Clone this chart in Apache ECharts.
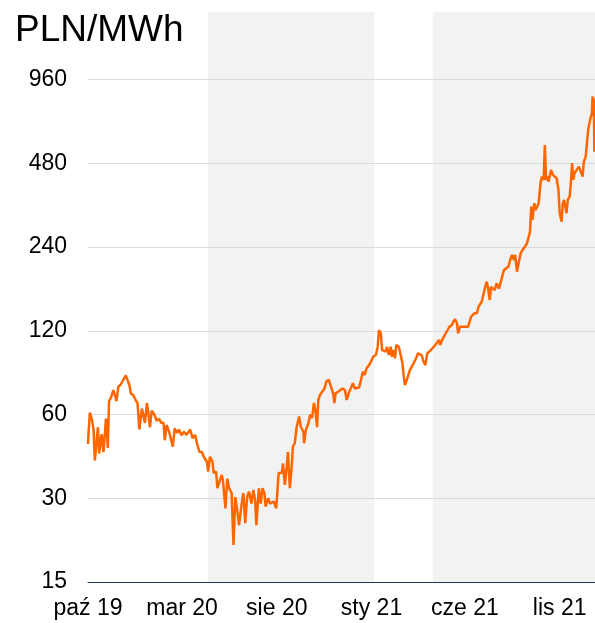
<!DOCTYPE html>
<html><head><meta charset="utf-8">
<script src="https://cdn.jsdelivr.net/npm/echarts@6/dist/echarts.min.js"></script>
<style>html,body{margin:0;padding:0;background:#fff}#c{width:595px;height:623px}</style>
</head><body><div id="c"></div>
<script>
// ---- data ----
const startDate = '2019-10-01';
const endDate = '2021-12-28';
const dayOffsets = [0,1,3,6,9,11,16,18,22,25,29,32,34,37,41,42,46,49,53,57,61,64,67,69,73,77,80,83,87,90,92,95,97,100,103,107,111,115,118,122,124,127,131,134,137,140,144,147,151,155,159,165,169,173,176,180,184,187,192,194,197,201,203,207,209,212,216,218,222,225,228,232,235,238,241,244,248,251,254,257,260,264,267,270,272,276,279,282,285,287,291,294,297,300,304,306,308,313,315,318,321,323,326,329,331,334,337,341,344,348,349,352,356,359,362,365,368,370,372,375,378,382,385,389,392,396,398,400,404,407,411,415,418,421,425,428,431,434,438,441,444,447,450,454,457,461,465,468,470,473,475,478,481,483,486,489,491,493,496,498,502,505,508,510,512,515,517,520,523,526,530,533,536,539,542,545,548,551,554,557,561,564,567,569,572,575,578,581,584,588,590,593,596,598,601,604,607,610,614,617,619,624,628,631,636,639,641,644,646,649,651,654,657,660,664,667,669,672,675,679,682,685,688,690,693,696,699,702,706,709,712,714,716,718,721,723,726,728,731,733,736,738,740,742,744,748,751,754,757,760,762,765,767,769,771,773,775,778,780,782,784,786,789,793,796,799,801,804,808,811,814,815,817,818];
const prices = [47,52,61,58,53,41,54,43.5,51,44,58,45.5,67,69,73.5,74.5,67,75.5,77,80,83,82.5,76.5,71.5,70.5,67.5,66,53,63,64,56,66,62,54,62,60,57,58,56,56,48.5,55,52,51.5,46,53.5,51.5,53,50.5,52,50.7,53,49.3,50.7,47.3,44,44,42.3,40.6,37.4,42.3,40.6,37,37.4,32.6,32.6,36.4,34.8,27.6,35.3,32.6,31.3,20.4,30.3,27.2,24,28.4,31.3,24.4,30.3,31.7,28.7,32.1,29.6,24,32.6,28.7,32.6,31.3,28,30,28.7,28.4,29.2,27.6,27.2,37,37,40,33.5,39,44,32.6,39,46,47.3,54,59,54,52,47.3,52.8,55.8,60,58.3,66,60.6,54,67.7,70.7,71.5,74.4,78.8,80,80,71.5,66,71.5,72.5,73.5,74.4,73.5,67.7,71.5,75,77.8,74.4,75.6,75,80,85.5,83.3,88,90.3,93,97,98.2,105.2,120.8,117.6,102.4,103.6,101,105.2,98.2,105.2,96.8,102.4,95.6,106.7,105.2,98.2,91.7,82.1,76.6,79.9,79.9,86.7,89.2,91.7,95.6,99.6,101,98.2,92.9,90.3,99.6,101,102.4,103.6,106.7,108.3,111.3,106.7,111.3,114.4,117.6,120.8,124.2,126,129.4,132,127.6,117.6,124.2,122.5,124.2,125,124.2,126,134.9,138.7,138.7,146.5,152.6,154.8,170.2,180.2,172.7,154.8,172.7,170.2,168,177.8,170.2,168,187.9,198.6,200.9,204.1,215.7,224.9,215.7,224.9,195.8,212.7,228.1,234.4,240.9,247.6,261.8,272.8,335.5,300.4,345,326.2,326.2,345,407.3,430.3,418.6,559,418.6,430.3,412.5,454.6,436.1,430.3,424.4,385,317.6,296.2,345,354.5,335.5,317.6,354.5,364.3,407.3,480.5,418.6,442.6,442.6,467.3,448.4,430.3,487,507.6,633,687.8,726.8,834,811,528.6];
const xTickDates = ['2019-10-01','2020-03-01','2020-08-01','2021-01-01','2021-06-01','2021-11-01'];
const xTickLabels = ['paź 19','mar 20','sie 20','sty 21','cze 21','lis 21'];
const yTicks = [15,30,60,120,240,480,960];
const yMin = 15, yMax = 1680;
const shadedPeriods = [['2020-04-12','2021-01-05'],['2021-04-10','2021-12-28']];
const unitLabel = 'PLN/MWh';

// ---- helpers ----
function ts(s){const p=s.split('-').map(Number);return new Date(p[0],p[1]-1,p[2]).getTime();}
const sp = startDate.split('-').map(Number);
const seriesData = dayOffsets.map((d,i)=>[new Date(sp[0],sp[1]-1,sp[2]+d).getTime(), prices[i]]);
const xTickTs = xTickDates.map(ts);
const FONT = 'Liberation Sans, Arial, sans-serif';

const chart = echarts.init(document.getElementById('c'), null, {renderer:'canvas'});
chart.setOption({
  animation:false,
  backgroundColor:'#fff',
  title:{text:unitLabel,left:15,top:12,padding:0,textStyle:{fontSize:37,fontWeight:'normal',color:'#000',fontFamily:FONT}},
  grid:{left:88,right:0,top:12,bottom:41,containLabel:false},
  xAxis:{
    type:'value', min:ts(startDate), max:ts(endDate), z:2,
    axisLine:{show:true,lineStyle:{color:'#1f3864',width:1}},
    axisTick:{show:false,customValues:xTickTs},
    splitLine:{show:false},
    axisLabel:{customValues:xTickTs,margin:15,fontSize:23,color:'#000',fontFamily:FONT,
      formatter:function(v){let best=0,bd=Infinity;xTickTs.forEach((t,i)=>{const dd=Math.abs(t-v);if(dd<bd){bd=dd;best=i;}});return xTickLabels[best];}}
  },
  yAxis:{
    type:'log', logBase:2, min:yMin, max:yMax, z:2,
    axisLine:{show:false}, axisTick:{show:false,customValues:yTicks},
    splitLine:{show:true,lineStyle:{color:'#d9d9d9',width:1}},
    axisLabel:{customValues:yTicks,margin:21,fontSize:23,color:'#000',fontFamily:FONT,formatter:function(v){return String(Math.round(v));}}
  },
  series:[{
    type:'line', data:seriesData, showSymbol:false, z:3,
    lineStyle:{color:'#ff6600',width:2.5},
    markArea:{silent:true,z:1,itemStyle:{color:'#f2f2f2'},
      data:shadedPeriods.map(p=>[{xAxis:ts(p[0])},{xAxis:ts(p[1])}])}
  }]
});
</script></body></html>
